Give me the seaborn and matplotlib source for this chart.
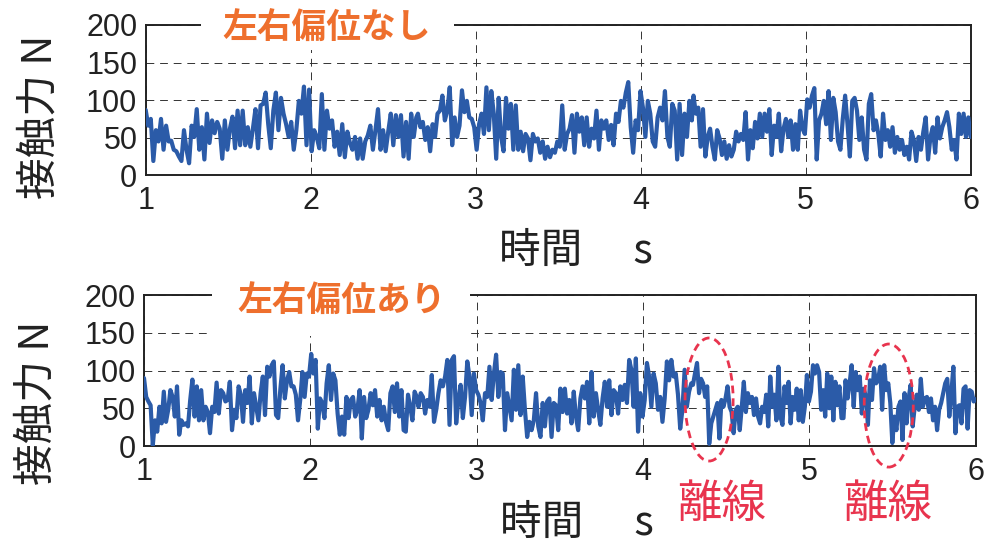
import numpy as np
import pandas as pd
import matplotlib
matplotlib.use("Agg")
import matplotlib.pyplot as plt
import seaborn as sns
from matplotlib.patches import Ellipse, Rectangle

# Contact force samples (N), recorded in three consecutive stretches per run
no_offset_a = [87, 66, 75, 19, 60, 45, 75, 34, 66, 45, 46, 34, 32, 25, 19, 60, 34, 16, 66, 51,
               88, 34, 64, 21, 82, 43, 73, 56, 71, 62, 22, 73, 34, 62, 78, 36, 86, 40, 86, 40,
               64, 38, 62, 88, 36, 93, 95, 110, 68, 36, 86, 110, 60, 103, 82, 68, 51, 71, 34, 60,
               99, 82, 118, 40, 114, 32, 60, 51, 36, 108, 34, 86, 62, 73, 38, 58, 27, 68, 24, 58,
               43, 34, 51, 22, 49, 22, 45, 53, 66, 34, 60, 88, 34, 60, 32, 58, 82, 40, 80, 51,
               80, 25, 71, 22, 82, 51, 77]
no_offset_b = [82, 64, 71, 47, 64, 32, 68, 51, 82, 86, 106, 73, 86, 117, 40, 77, 51, 66, 113, 84,
               99, 77, 75, 64, 34, 68, 82, 55, 117, 60, 112, 82, 22, 103, 51, 32, 103, 62, 95, 34,
               93, 34, 58, 32, 55, 49, 20, 55, 45, 49, 30, 45, 22, 38, 24, 34, 30, 45, 38, 93,
               34, 55, 62, 80, 30, 82, 58, 77, 40, 77, 38, 62, 49, 86, 34, 73, 62, 73, 47, 67,
               40, 82, 71, 99, 90, 110, 124, 64, 30, 73, 60, 112, 90, 51, 99, 82, 45, 38, 77, 90,
               73, 112, 51, 38, 95, 86, 21, 95, 27, 82, 51, 99, 73]
no_offset_c = [106, 82, 90, 38, 88, 25, 51, 62, 38, 21, 60, 49, 27, 45, 22, 40, 25, 34, 58, 45,
               55, 47, 84, 21, 60, 36, 71, 49, 82, 51, 82, 58, 88, 27, 66, 51, 82, 32, 62, 75,
               51, 73, 34, 68, 34, 86, 62, 55, 101, 90, 106, 116, 21, 73, 82, 99, 68, 112, 47, 103,
               84, 45, 34, 75, 106, 68, 25, 99, 103, 86, 47, 77, 34, 21, 95, 108, 60, 73, 55, 25,
               82, 47, 60, 38, 64, 30, 51, 34, 47, 27, 38, 21, 58, 47, 19, 51, 34, 58, 77, 21,
               51, 64, 30, 77, 49, 64, 73, 84, 64, 34, 47, 21, 82, 55, 82, 51, 77, 51]

offset_a = [90, 65, 59, 54, 1, 34, 19, 52, 30, 72, 32, 48, 74, 65, 39, 79, 15, 34, 28, 30,
            26, 61, 88, 39, 79, 34, 74, 34, 52, 45, 17, 52, 45, 84, 43, 74, 70, 59, 61, 85,
            21, 48, 37, 79, 68, 32, 74, 57, 92, 30, 70, 52, 34, 70, 92, 41, 105, 92, 107, 112,
            41, 37, 76, 107, 63, 87, 98, 79, 79, 68, 34, 61, 98, 65, 96, 92, 122, 96, 114, 23,
            63, 57, 37, 83, 107, 61, 96, 87, 43, 15, 39, 15, 65, 37, 61, 65, 39, 48, 74, 10,
            65, 37, 48, 70, 54, 74, 39, 61, 34, 52, 32, 21, 70, 79, 45, 83, 39, 74, 21, 19,
            68, 52, 34, 72, 65]
offset_b = [52, 70, 65, 43, 61, 52, 94, 32, 48, 70, 87, 79, 92, 114, 28, 114, 119, 30, 61, 81,
            37, 65, 112, 92, 41, 96, 74, 68, 57, 34, 70, 65, 105, 61, 96, 121, 65, 98, 96, 21,
            70, 52, 34, 101, 48, 107, 41, 92, 48, 12, 32, 21, 34, 70, 26, 12, 57, 26, 59, 63,
            12, 57, 54, 21, 76, 45, 76, 43, 61, 30, 72, 39, 21, 63, 79, 63, 85, 30, 98, 39,
            70, 48, 28, 63, 85, 52, 87, 41, 74, 70, 43, 79, 61, 81, 57, 114, 101, 52, 116, 19,
            70, 39, 61, 110, 92, 52, 96, 83, 48, 65, 32, 63, 112, 87, 114, 92, 96, 68, 23, 48,
            101, 52, 72, 83]
offset_c = [81, 96, 110, 70, 89, 83, 65, 79, 3, 30, 39, 48, 57, 10, 61, 52, 63, 79, 52, 45,
            17, 48, 52, 21, 52, 85, 45, 70, 57, 65, 41, 63, 39, 30, 52, 45, 68, 26, 92, 52,
            68, 34, 105, 39, 28, 79, 57, 85, 30, 65, 48, 76, 34, 74, 32, 52, 94, 59, 72, 107,
            96, 107, 98, 48, 74, 39, 96, 50, 92, 34, 85, 54, 79, 37, 37, 87, 63, 83, 107, 52,
            98, 74, 92, 43, 76, 65, 28, 87, 61, 103, 83, 87, 105, 48, 107, 74, 83, 57, 4, 39,
            21, 52, 59, 8, 70, 30, 63, 81, 26, 52, 68, 48, 89, 52, 63, 65, 45, 63, 34, 52,
            21, 48, 57, 70, 83, 89, 39, 70, 105, 17, 52, 54, 30, 76, 79, 23, 74, 72, 59, 62]

# Time span (s) covered by each stretch
spans_no_offset = [(1.0, 2.64), (2.65, 4.31), (4.32, 6.0)]
spans_offset = [(1.0, 2.64), (2.65, 4.29), (4.30, 6.0)]

panel_titles = ["左右偏位なし", "左右偏位あり"]
x_ticks = [1, 2, 3, 4, 5, 6]
y_ticks = [0, 50, 100, 150, 200]
loss_label = "離線"
# Contact-loss events in the offset run: (time centre, force centre, time width, force height)
loss_events = [(4.397, 61.6, 0.289, 163), (5.477, 53.6, 0.295, 163)]

BLUE = "#2B5BA8"
ORANGE = "#EE6F2D"
RED = "#E8344E"
INK = "#222222"


def build_frame(segments, spans):
    t = np.concatenate([np.linspace(a, b, len(s)) for s, (a, b) in zip(segments, spans)])
    f = np.concatenate([np.asarray(s, dtype=float) for s in segments])
    return pd.DataFrame({"time": t, "force": f})


df_no_offset = build_frame([no_offset_a, no_offset_b, no_offset_c], spans_no_offset)
df_offset = build_frame([offset_a, offset_b, offset_c], spans_offset)

sns.set_style("white")
plt.rcParams["font.family"] = ["Noto Sans CJK JP", "DejaVu Sans"]

fig = plt.figure(figsize=(9.87, 5.43), dpi=100)
ax_top = fig.add_axes([0.1476, 0.6772, 0.8359, 0.2768])
ax_bot = fig.add_axes([0.1459, 0.1786, 0.8427, 0.2781])


def style_axes(ax, df, title, title_xy, box, ylab_y):
    sns.lineplot(data=df, x="time", y="force", ax=ax, color=BLUE, linewidth=3.0,
                 estimator=None, sort=False, zorder=4)
    ax.set_xlim(1, 6)
    ax.set_ylim(0, 200)
    ax.set_xticks(x_ticks)
    ax.set_yticks(y_ticks)
    ax.set_xticklabels([str(v) for v in x_ticks], fontfamily="Liberation Sans",
                       fontsize=22, color=INK)
    ax.set_yticklabels([str(v) for v in y_ticks], fontfamily="Liberation Sans",
                       fontsize=22, color=INK)
    ax.tick_params(axis="x", length=0, pad=8)
    ax.tick_params(axis="y", length=0, pad=6)
    ax.grid(True, color="#333333", linestyle=(0, (8, 6)), linewidth=0.7)
    for sp in ax.spines.values():
        sp.set_visible(True)
        sp.set_color(INK)
        sp.set_linewidth(1.4)
    ax.set_ylabel("接触力 N", fontsize=30, color=INK)
    ax.yaxis.label.set_va("center")
    ax.yaxis.label.set_ha("center")
    ax.yaxis.set_label_coords(-0.128, ylab_y)
    ax.set_xlabel("時間\u3000 s", fontsize=30, color=INK)
    ax.xaxis.label.set_va("center")
    ax.xaxis.set_label_coords(0.521, -0.51)
    x0, y0, x1, y1 = box
    ax.add_patch(Rectangle((x0, y0), x1 - x0, y1 - y0, transform=ax.transAxes,
                           facecolor="white", edgecolor="none", clip_on=False, zorder=5))
    ax.text(title_xy[0], title_xy[1], title, transform=ax.transAxes, ha="center",
            va="center", fontsize=25, fontweight="bold", color=ORANGE, zorder=6)


style_axes(ax_top, df_no_offset, panel_titles[0], (0.2198, 0.98),
           (0.067, 0.834, 0.3737, 1.12), 0.388)
style_axes(ax_bot, df_offset, panel_titles[1], (0.238, 0.96),
           (0.0818, 0.728, 0.392, 1.12), 0.285)

for (tc, fc, tw, fh) in loss_events:
    ax_bot.add_patch(Ellipse((tc, fc), tw, fh, fill=False, edgecolor=RED,
                             linewidth=2.0, linestyle=(0, (2.8, 1.8)),
                             clip_on=False, zorder=7))

fig.text(0.7315, 0.0718, loss_label, ha="center", va="center", fontsize=32, color=RED)
fig.text(0.8997, 0.0718, loss_label, ha="center", va="center", fontsize=32, color=RED)

fig.savefig("out.png", dpi=100)
